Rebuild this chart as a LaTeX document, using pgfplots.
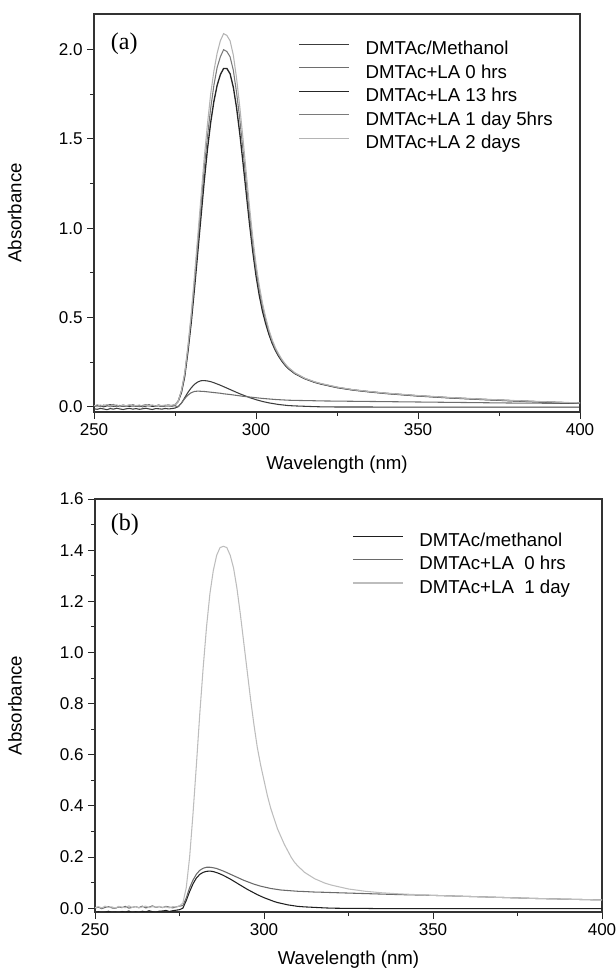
\documentclass[border=0pt]{standalone}
\usepackage{pgfplots}
\pgfplotsset{compat=1.18}
\usepackage{pgfplotstable}
\usepackage{fontspec}
\setmainfont{Liberation Sans}
\newfontfamily\serif{Liberation Serif}
\definecolor{cMa}{HTML}{3C3C3C}
\definecolor{cLa0}{HTML}{6E6E6E}
\definecolor{cLa13}{HTML}{262626}
\definecolor{cLa1d5}{HTML}{7A7A7A}
\definecolor{cLa2d}{HTML}{B4B4B4}
\definecolor{cMb}{HTML}{1E1E1E}
\definecolor{cLb0}{HTML}{6A6A6A}
\definecolor{cLb1}{HTML}{BDBDBD}

\pgfplotstableread{
x meth la0 la13 la1d5 la2d
250 -0.012 0.004 0.002 0.007 0.006
251 -0.015 0.000 0.008 0.003 0.002
252 -0.010 0.006 0.004 0.000 0.009
253 -0.013 0.002 0.000 0.009 0.004
254 -0.017 0.008 0.006 0.004 0.012
255 -0.011 -0.001 0.010 0.006 0.003
256 -0.014 0.005 0.003 0.012 0.007
257 -0.009 0.003 0.005 0.002 0.010
258 -0.013 0.007 0.001 0.005 0.002
259 -0.016 0.001 0.007 0.008 0.008
260 -0.012 0.004 0.004 0.001 0.005
261 -0.010 0.009 0.002 0.006 0.011
262 -0.014 0.002 0.008 0.010 0.004
263 -0.011 0.005 0.003 0.004 0.006
264 -0.015 0.000 0.006 0.002 0.009
265 -0.012 0.006 0.000 0.007 0.003
266 -0.009 0.003 0.005 0.011 0.008
267 -0.013 0.007 0.009 0.003 0.005
268 -0.016 0.002 0.002 0.006 0.010
269 -0.011 0.005 0.004 0.004 0.004
270 -0.012 0.004 0.007 0.009 0.007
271 -0.014 0.001 0.003 0.002 0.006
272 -0.010 0.006 0.005 0.005 0.009
273 -0.013 0.003 0.008 0.007 0.005
274 -0.011 0.005 0.004 0.003 0.008
275 -0.008 0.004 0.010 0.009 0.012
276 0.000 0.000 0.030 0.030 0.030
277 0.020 0.020 0.080 0.090 0.090
278 0.050 0.045 0.170 0.180 0.190
279 0.080 0.065 0.310 0.330 0.340
280 0.105 0.078 0.470 0.500 0.520
281 0.125 0.085 0.660 0.700 0.730
282 0.138 0.087 0.860 0.910 0.950
283 0.145 0.086 1.060 1.120 1.170
284 0.146 0.085 1.260 1.330 1.390
285 0.144 0.083 1.440 1.510 1.580
286 0.140 0.081 1.590 1.670 1.750
287 0.134 0.079 1.710 1.800 1.880
288 0.127 0.077 1.800 1.900 1.980
289 0.120 0.075 1.860 1.960 2.050
290 0.112 0.072 1.895 2.000 2.090
291 0.104 0.070 1.895 1.990 2.080
292 0.096 0.068 1.865 1.960 2.050
293 0.088 0.0655 1.790 1.885 1.970
294 0.080 0.063 1.675 1.760 1.840
295 0.072 0.0605 1.530 1.610 1.680
296 0.065 0.058 1.365 1.435 1.500
297 0.058 0.056 1.195 1.255 1.310
298 0.051 0.054 1.025 1.075 1.120
299 0.045 0.052 0.870 0.910 0.950
300 0.039 0.050 0.735 0.770 0.800
301 0.034 0.048 0.625 0.655 0.680
302 0.029 0.046 0.535 0.560 0.580
303 0.025 0.0445 0.465 0.485 0.500
304 0.021 0.043 0.405 0.420 0.430
305 0.018 0.0415 0.355 0.365 0.375
306 0.015 0.040 0.315 0.322 0.330
307 0.012 0.039 0.282 0.288 0.295
308 0.010 0.038 0.255 0.260 0.265
309 0.008 0.037 0.232 0.236 0.240
310 0.006 0.036 0.213 0.216 0.220
312 0.004 0.035 0.185 0.187 0.190
315 0.002 0.034 0.157 0.158 0.160
318 0.000 0.033 0.137 0.138 0.140
320 -0.001 0.032 0.127 0.128 0.130
325 -0.002 0.031 0.107 0.108 0.110
330 -0.002 0.030 0.093 0.094 0.095
335 -0.002 0.029 0.083 0.084 0.085
340 -0.003 0.028 0.074 0.075 0.076
350 -0.003 0.026 0.060 0.061 0.062
360 -0.003 0.024 0.049 0.050 0.051
370 -0.003 0.022 0.040 0.041 0.042
380 -0.003 0.020 0.032 0.033 0.034
390 -0.003 0.019 0.025 0.026 0.027
400 -0.003 0.018 0.019 0.020 0.021
}\tabA

\pgfplotstableread{
x meth la0 la1d
250 -0.018 0.000 0.002
251 -0.014 0.004 0.006
252 -0.020 -0.002 0.001
253 -0.016 0.003 0.008
254 -0.012 0.006 0.003
255 -0.017 0.001 0.005
256 -0.015 -0.001 0.000
257 -0.019 0.005 0.007
258 -0.013 0.002 0.004
259 -0.016 0.007 0.002
260 -0.011 0.000 0.009
261 -0.018 0.003 0.003
262 -0.014 0.006 0.006
263 -0.017 0.002 0.001
264 -0.012 0.008 0.005
265 -0.015 0.001 0.008
266 -0.010 0.004 0.002
267 -0.014 0.009 0.006
268 -0.016 0.003 0.004
269 -0.012 0.006 0.007
270 -0.011 0.002 0.003
271 -0.009 0.007 0.005
272 -0.013 0.004 0.001
273 -0.010 0.001 0.006
274 -0.008 0.005 0.004
275 -0.006 0.008 0.009
276 0.000 0.010 0.020
277 0.030 0.040 0.080
278 0.065 0.080 0.200
279 0.095 0.110 0.370
280 0.118 0.133 0.560
281 0.132 0.148 0.760
282 0.140 0.156 0.940
283 0.144 0.160 1.100
284 0.145 0.160 1.230
285 0.143 0.158 1.320
286 0.139 0.155 1.380
287 0.134 0.150 1.410
288 0.128 0.145 1.415
289 0.121 0.139 1.410
290 0.114 0.133 1.380
291 0.106 0.127 1.330
292 0.098 0.121 1.250
293 0.090 0.115 1.150
294 0.082 0.109 1.040
295 0.074 0.104 0.930
296 0.067 0.099 0.820
297 0.060 0.094 0.720
298 0.053 0.090 0.630
299 0.047 0.086 0.560
300 0.041 0.083 0.500
301 0.036 0.080 0.440
302 0.031 0.077 0.390
303 0.026 0.075 0.350
304 0.022 0.073 0.310
305 0.019 0.071 0.280
306 0.016 0.070 0.250
307 0.013 0.069 0.225
308 0.011 0.068 0.200
309 0.009 0.067 0.180
310 0.007 0.066 0.165
312 0.005 0.065 0.140
315 0.003 0.063 0.115
318 0.001 0.062 0.098
320 0.000 0.061 0.090
325 -0.001 0.059 0.075
330 -0.001 0.057 0.066
335 -0.002 0.055 0.060
340 -0.002 0.053 0.056
350 -0.002 0.050 0.050
360 -0.002 0.046 0.046
370 -0.002 0.042 0.042
380 -0.002 0.038 0.038
390 -0.002 0.035 0.035
400 -0.002 0.032 0.032
}\tabB

\pgfplotsset{
  mystyle/.style={
    scale only axis,
    xmin=250, xmax=400,
    xtick={250,300,350,400},
    minor xtick={275,325,375},
    tick align=outside,
    xtick pos=bottom, ytick pos=left,
    major tick length=5pt, minor tick length=3pt,
    tick style={line width=0.7pt, color=black!85},
    axis line style={line width=0.8pt, black!80},
    ticklabel style={font=\fontsize{12.8}{14}\selectfont},
    /pgf/number format/assume math mode=true,
    yticklabel style={/pgf/number format/.cd, fixed, fixed zerofill, precision=1},
    label style={font=\fontsize{14}{16}\selectfont},
    xlabel={Wavelength (nm)},
    ylabel={Absorbance},
    legend cell align=left,
    legend style={draw=none, fill=none, font=\fontsize{14}{16}\selectfont,
      inner sep=0pt, row sep=5.2pt,
      nodes={inner sep=0pt, text height=9.7pt, text depth=2.7pt},
      /tikz/every odd column/.append style={column sep=12pt}},
    legend image code/.code={\draw[##1] (0pt,4.3pt) -- (37.5pt,4.3pt);},
    every axis plot/.append style={line width=0.8pt},
  }
}

\begin{document}
\begin{tikzpicture}
\useasboundingbox (0,0) rectangle (461.25pt,730.5pt);
\begin{axis}[mystyle,
  at={(70.5pt,421.5pt)}, anchor=south west,
  width=364.5pt, height=298.5pt,
  ymin=-0.03, ymax=2.2,
  ytick={0,0.5,1,1.5,2},
  minor ytick={0.25,0.75,1.25,1.75},
  legend style={at={(axis description cs:0.42,0.931)}, anchor=north west},
  ylabel style={at={(axis description cs:-0.163,0.5)}, anchor=center},
  xlabel style={at={(axis description cs:0.5,-0.133)}, anchor=center},
]
\addplot[color=cMa] table[x=x,y=meth]{\tabA};
\addlegendentry{DMTAc/Methanol}
\addplot[color=cLa0] table[x=x,y=la0]{\tabA};
\addlegendentry{DMTAc+LA 0 hrs}
\addplot[color=cLa13, line width=1pt] table[x=x,y=la13]{\tabA};
\addlegendentry{DMTAc+LA 13 hrs}
\addplot[color=cLa1d5] table[x=x,y=la1d5]{\tabA};
\addlegendentry{DMTAc+LA 1 day 5hrs}
\addplot[color=cLa2d] table[x=x,y=la2d]{\tabA};
\addlegendentry{DMTAc+LA 2 days}
\node[anchor=west, font=\serif\fontsize{18}{20}\selectfont] at (axis description cs:0.025,0.925) {(a)};
\end{axis}

\begin{axis}[mystyle,
  at={(71.25pt,46.5pt)}, anchor=south west,
  width=380.25pt, height=309.75pt,
  ymin=-0.015, ymax=1.6,
  ytick={0,0.2,0.4,0.6,0.8,1.0,1.2,1.4,1.6},
  minor ytick={0.1,0.3,0.5,0.7,0.9,1.1,1.3,1.5},
  legend style={at={(axis description cs:0.507,0.917)}, anchor=north west},
  ylabel style={at={(axis description cs:-0.158,0.5)}, anchor=center},
  xlabel style={at={(axis description cs:0.5,-0.116)}, anchor=center},
]
\addplot[color=cMb] table[x=x,y=meth]{\tabB};
\addlegendentry{DMTAc/methanol}
\addplot[color=cLb0] table[x=x,y=la0]{\tabB};
\addlegendentry{DMTAc+LA\ \ 0 hrs}
\addplot[color=cLb1] table[x=x,y=la1d]{\tabB};
\addlegendentry{DMTAc+LA\ \ 1 day}
\node[anchor=west, font=\serif\fontsize{18}{20}\selectfont] at (axis description cs:0.022,0.9375) {(b)};
\end{axis}
\end{tikzpicture}
\end{document}
